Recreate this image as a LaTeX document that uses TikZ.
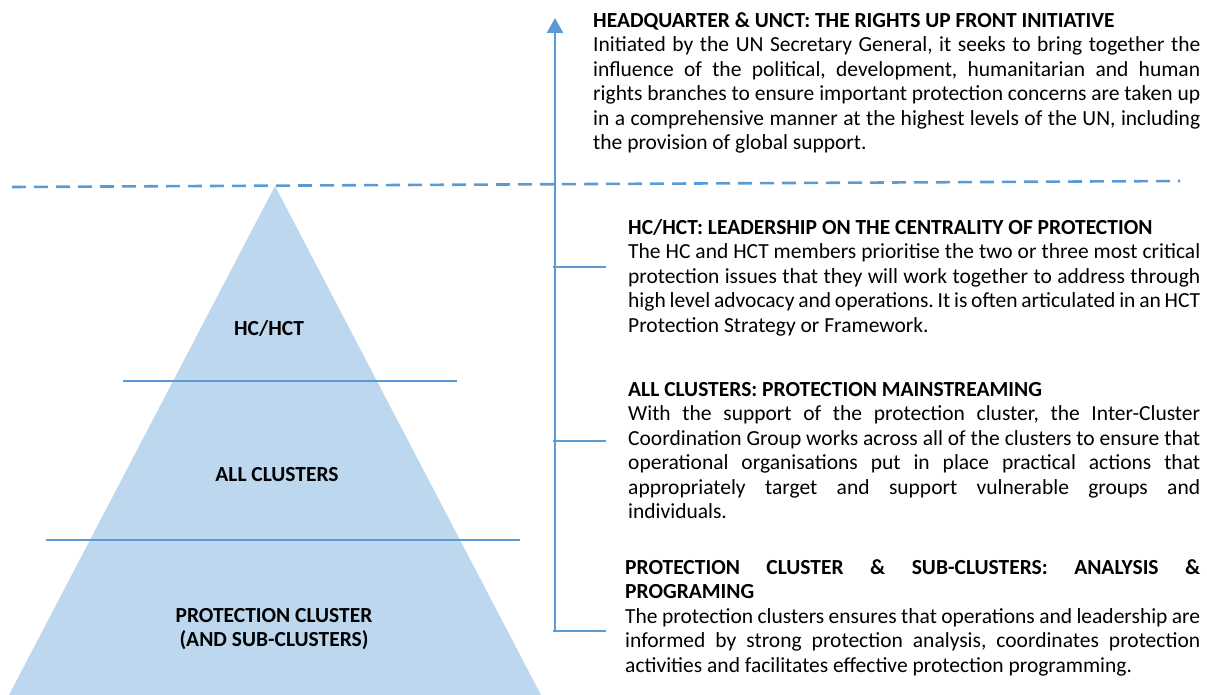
\documentclass[tikz,border=0pt]{standalone}
\usepackage{fontspec}
\setmainfont{Carlito}
\usetikzlibrary{arrows.meta}

\definecolor{pyramid}{HTML}{BDD7EE}
\definecolor{accent}{HTML}{5B9BD5}
\setlength{\parindent}{0pt}
\frenchspacing

\begin{document}
\begin{tikzpicture}[x=1pt, y=-1pt,
    rule/.style={accent, line width=2.6pt},
    level/.style={font=\bfseries\fontsize{21.5}{24.5}\selectfont, align=center, inner sep=0pt},
    note/.style={anchor=north west, inner sep=0pt, align=justify,
        font=\fontsize{21.5}{24.5}\selectfont}]
    \useasboundingbox (0,0) rectangle (1207,695);

    % Pyramid with its three levels
    \coordinate (apex) at (275,186);
    \fill[pyramid] (apex) -- (541,695) -- (9,695) -- cycle;
    \draw[rule] (123,381) -- (457,381);
    \draw[rule] (46,540) -- (520,540);
    \node[level] (hc) at (269,328) {HC/HCT};
    \node[level] (all) at (277,475) {ALL CLUSTERS};
    \node[level] (pc) at (274,629) {PROTECTION CLUSTER\\(AND SUB-CLUSTERS)};

    % Dashed water line
    \coordinate (waterW) at (12,187);
    \coordinate (waterE) at (1180,181);
    \draw[rule, dash pattern=on 14pt off 8pt] (waterW) -- (waterE);

    % Vertical axis with ticks
    \coordinate (foot) at (555,632);
    \coordinate (top) at (555,18);
    \draw[rule, -{Triangle[width=16pt,length=15pt]}] (foot) -- (top);
    \foreach \y/\n in {267/a, 441/b, 631/c} {
        \coordinate (tick\n) at (553,\y);
        \draw[rule] (tick\n) -- ++(53,0);
    }

    % Descriptions
    \node[note, text width=607] (hq) at (593,10) {\strut\textbf{HEADQUARTER \& UNCT: THE RIGHTS UP FRONT INITIATIVE}\\
        Initiated by the UN Secretary General, it seeks to bring together the\linebreak
        influence of the political, development, humanitarian and human\linebreak
        rights branches to ensure important protection concerns are taken up\linebreak
        in a comprehensive manner at the highest levels of the UN, including\linebreak
        the provision of global support.};
    \node[note, text width=572] (hct) at (628,217) {\strut\textbf{HC/HCT: LEADERSHIP ON THE CENTRALITY OF PROTECTION}\\
        The HC and HCT members prioritise the two or three most critical\linebreak
        protection issues that they will work together to address through\linebreak
        high level advocacy and operations. It is often articulated in an HCT\linebreak
        Protection Strategy or Framework.};
    \node[note, text width=572] (main) at (628,379) {\strut\textbf{ALL CLUSTERS: PROTECTION MAINSTREAMING}\\
        With the support of the protection cluster, the Inter-Cluster\linebreak
        Coordination Group works across all of the clusters to ensure that\linebreak
        operational organisations put in place practical actions that\linebreak
        appropriately target and support vulnerable groups and\linebreak
        individuals.};
    \node[note, text width=575] (prog) at (625,557) {\strut\textbf{PROTECTION CLUSTER \& SUB-CLUSTERS: ANALYSIS \&\linebreak
        PROGRAMING}\\
        The protection clusters ensures that operations and leadership are\linebreak
        informed by strong protection analysis, coordinates protection\linebreak
        activities and facilitates effective protection programming.};
\end{tikzpicture}
\end{document}
